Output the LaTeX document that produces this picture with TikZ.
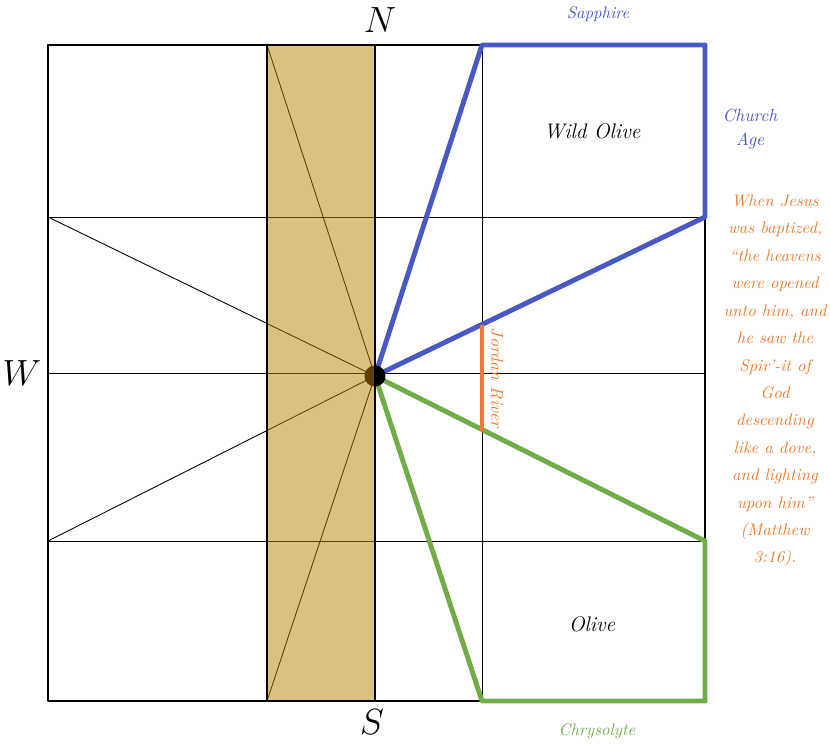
\documentclass[tikz,border=0pt]{standalone}
\definecolor{sapphire}{RGB}{72,88,196}
\definecolor{chrysolyte}{RGB}{112,173,71}
\definecolor{jordan}{RGB}{237,125,49}
\definecolor{wood}{RGB}{184,131,0}
\begin{document}
\begin{tikzpicture}[x=0.02cm, y=-0.02cm, line join=round, font=\itshape]
            \useasboundingbox (0,0) rectangle (830,743);
            \coordinate (C) at (375,376);
            \draw[line width=0.5pt] (48,217) -- (705,217);
            \draw[line width=0.5pt] (48,373) -- (705,373);
            \draw[line width=0.5pt] (48,541) -- (705,541);
            \draw[line width=0.5pt] (482,45) -- (482,701);
            \draw[line width=0.5pt] (C) -- (48,217) (C) -- (48,541) (C) -- (267,45) (C) -- (267,701);
            \draw[line width=1.4pt] (482,45) -- (48,45) -- (48,701) -- (482,701);
            \draw[line width=1pt] (705,45) -- (705,701);
            \draw[sapphire, line width=2.8pt] (C) -- (482,45) -- (705,45) -- (705,217) -- cycle;
            \draw[chrysolyte, line width=2.8pt] (C) -- (705,541) -- (705,701) -- (482,701) -- cycle;
            \draw[jordan, line width=2.2pt] (482,325) -- (482,431);
            \fill (C) circle (6pt);
            \fill[wood, fill opacity=0.5] (267,45) rectangle (375,701);
            \draw[line width=1.4pt] (267,45) rectangle (375,701);
            \node at (380,20) {\huge$N$};
            \node at (372,722) {\huge$S$};
            \node at (22,373) {\huge$W$};
            \node[font=\large\itshape] at (592,131) {Wild Olive};
            \node[font=\large\itshape] at (592,624) {Olive};
            \node[sapphire, font=\fontsize{9.5}{11}\itshape] at (598,14) {Sapphire};
            \node[chrysolyte, font=\fontsize{9.5}{11}\itshape] at (597,731) {Chrysolyte};
            \node[sapphire, align=center, font=\fontsize{10}{13.6}\itshape] at (750,129) {Church\\Age};
            \node[jordan, rotate=-90, font=\fontsize{10}{12}\itshape] at (497,378) {Jordan River};
            \node[jordan, align=center, font=\fontsize{9.5}{15.6}\itshape] at (775,381)
                {When Jesus\\was baptized,\\``the heavens\\were opened\\unto him, and\\he saw the\\Spir'-it of\\God\\descending\\like a dove,\\and lighting\\upon him''\\(Matthew\\3:16).};
        \end{tikzpicture}
\end{document}
